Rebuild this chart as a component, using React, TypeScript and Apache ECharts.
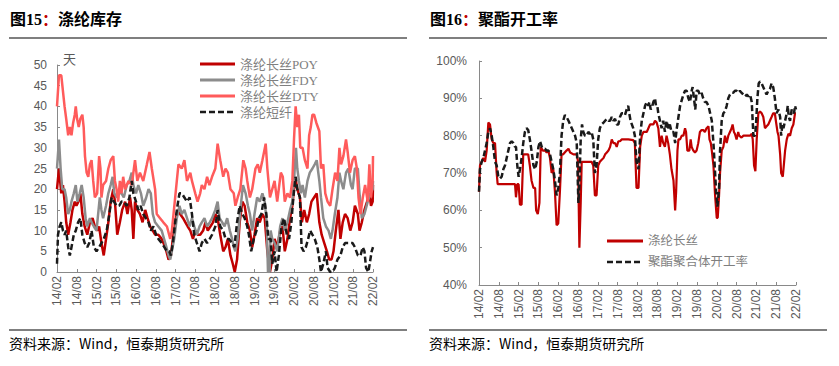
import React, { useEffect, useRef } from "react";
import * as echarts from "echarts";

// x values are months elapsed since 2014/02
const xTickLabels = ["14/02","14/08","15/02","15/08","16/02","16/08","17/02","17/08","18/02","18/08","19/02","19/08","20/02","20/08","21/02","21/08","22/02"];

const invNames = ["涤纶长丝POY", "涤纶长丝FDY", "涤纶长丝DTY", "涤纶短纤"];
const rateNames = ["涤纶长丝", "聚酯聚合体开工率"];

const poy: number[][] = [[0,20],[0.6,25],[1.3,19],[1.8,21],[2.3,17],[2.8,12],[3.4,9],[4.1,12],[4.7,15],[5.4,17],[5.9,16],[6.5,17],[7.1,19],[7.7,14],[8.4,11],[9.2,9],[10.0,12],[10.8,13],[11.5,11],[12.2,10],[12.8,11],[13.5,7],[14.2,4],[14.9,8],[15.6,12],[16.3,17],[17.1,20],[17.6,17],[18.3,9],[19.1,12],[19.8,15],[20.7,17],[21.4,14],[22.2,18],[22.7,15],[23.2,8],[23.7,17],[24.4,15],[25.2,14],[26.0,12],[26.8,15],[27.5,13],[28.3,11],[29.1,10],[29.8,9],[30.8,9],[31.8,8],[32.9,6],[33.9,3],[34.6,4],[35.2,8],[35.9,12],[36.6,15],[37.4,14],[38.3,13],[39.0,12],[39.7,11],[40.5,10],[41.3,8],[42.0,10],[42.7,9],[43.5,9],[44.4,10],[45.1,12],[45.8,10],[46.6,11],[47.4,12],[48.1,14],[48.8,13],[49.6,9],[50.5,5],[51.2,6],[51.9,8],[52.7,4],[53.4,2],[54.0,0],[54.7,3],[55.5,12],[56.3,17],[57.0,16],[57.8,12],[58.6,10],[59.3,6],[60.0,9],[60.8,13],[61.6,12],[62.4,14],[63.1,13],[63.9,5],[64.7,0],[65.4,3],[66.1,8],[66.9,6],[67.8,10],[68.5,11],[69.2,5],[70.0,8],[70.8,13],[71.5,16],[72.0,20],[72.6,22],[73.0,20],[73.8,18],[74.4,12],[75.1,15],[75.9,12],[76.6,14],[77.3,17],[78.1,18],[78.9,19],[79.7,12],[80.4,9],[81.2,7],[82.0,5],[82.7,3],[83.4,3],[84.0,5],[84.7,10],[85.5,15],[86.1,8],[86.8,12],[87.5,14],[88.3,13],[89.1,10],[89.8,12],[90.5,16],[91.4,14],[91.9,10],[92.6,12],[93.4,15],[94.2,17],[94.9,19],[95.4,16],[95.9,17],[96,21]];

const fdy: number[][] = [[0,25],[0.6,32],[1.1,25],[1.6,20],[2.3,20],[2.8,18],[3.4,14],[3.9,15],[4.4,17],[5.1,19],[5.7,21],[6.2,17],[6.9,19],[7.5,21],[8.1,18],[8.7,13],[9.2,11],[10.0,13],[10.5,12],[11.2,11],[12.0,10],[12.5,14],[13.0,18],[13.5,15],[14.0,13],[14.9,16],[15.6,19],[16.3,21],[16.9,23],[17.4,19],[18.1,18],[18.8,19],[19.6,19],[20.3,18],[21.2,21],[22.0,22],[22.7,24],[23.2,21],[24.0,19],[24.7,21],[25.5,19],[26.2,16],[27.1,18],[27.8,20],[28.5,19],[29.1,14],[29.8,12],[30.8,11],[31.8,10],[32.9,7],[33.9,4],[34.4,3],[34.9,5],[35.6,8],[36.4,13],[37.2,16],[37.9,14],[38.7,15],[39.5,13],[40.3,11],[41.0,13],[41.7,11],[42.5,9],[43.3,11],[44.0,12],[44.8,13],[45.6,11],[46.4,12],[47.1,13],[48.1,15],[48.8,17],[49.4,13],[50.2,12],[50.9,11],[51.7,13],[52.5,10],[53.2,8],[53.7,6],[54.2,5],[54.9,8],[55.7,15],[56.5,21],[57.3,19],[58.0,16],[58.6,14],[59.3,10],[60.0,14],[60.8,18],[61.6,17],[62.4,19],[63.1,17],[63.7,12],[64.1,0],[64.6,0],[64.9,10],[65.4,8],[66.1,7],[66.9,5],[67.8,11],[68.5,13],[69.2,10],[70.0,12],[70.8,15],[71.5,17],[72.0,22],[72.6,30],[73.0,25],[73.5,22],[74.1,19],[74.6,21],[75.3,18],[76.1,22],[76.8,24],[77.6,25],[78.3,26],[78.9,27],[79.7,22],[80.2,18],[80.9,13],[81.7,11],[82.5,10],[83.2,8],[83.7,10],[84.4,14],[85.2,18],[85.8,24],[86.3,22],[87.0,20],[87.8,24],[88.5,25],[89.3,21],[89.8,20],[90.5,25],[91.4,25],[91.9,19],[92.6,13],[93.4,14],[94.4,17],[95.2,19],[95.9,20],[96,22]];

const dty: number[][] = [[0,40],[0.6,47.5],[1.3,47.5],[2.3,40],[2.8,37],[3.4,33],[3.9,35],[4.4,33],[4.9,36],[5.4,38],[5.7,40],[6.1,37],[6.6,35],[7.1,37],[7.7,38],[8.1,35],[8.5,28],[9.0,24],[9.5,23],[10.0,26],[10.5,27],[11.0,22],[11.5,18],[12.2,19],[12.8,28],[13.2,25],[13.5,18],[14.0,21],[14.9,22],[15.6,25],[16.3,27],[17.1,28],[17.6,22],[18.1,20],[18.6,17],[19.1,22],[19.6,19],[20.1,23],[20.7,20],[21.7,22],[22.7,21],[23.7,27],[24.4,22],[25.2,24],[26.2,22],[27.3,26],[28.1,29],[28.8,25],[29.8,20],[30.3,14],[31.3,13],[32.3,12],[33.4,11],[34.4,8],[34.9,10],[35.4,14],[36.4,22],[36.9,26],[37.9,25],[38.7,27],[39.5,22],[40.5,24],[41.0,22],[42.0,19],[42.7,17],[43.5,19],[44.0,21],[44.8,20],[45.6,23],[46.3,21],[47.1,23],[48.1,25],[48.8,31],[49.6,27],[50.5,23],[51.2,25],[51.9,24],[52.7,20],[53.7,19],[54.2,16],[54.9,18],[55.7,20],[56.6,27],[57.3,25],[57.8,22],[58.6,18],[59.3,20],[60.3,25],[61.0,26],[61.6,24],[62.4,27],[63.4,31],[63.9,25],[64.7,18],[65.4,20],[66.1,22],[66.9,17],[68.0,24],[68.6,23],[69.2,17],[70.0,19],[70.8,18],[71.5,22],[72.0,32],[72.5,40],[73.0,35],[73.5,38],[73.9,30],[74.6,30],[75.3,27],[76.1,25],[76.6,33],[77.1,35],[77.6,38],[78.1,38],[78.8,36],[79.7,34],[80.2,25],[80.9,26],[81.5,19],[82.2,17],[83.0,16],[83.7,20],[84.5,24],[85.2,22],[85.8,30],[86.3,26],[87.0,28],[87.8,32],[88.3,29],[89.0,24],[89.8,27],[90.5,28],[91.1,25],[91.6,18],[92.2,14],[92.9,18],[93.6,21],[94.4,17],[94.9,26],[95.4,18],[95.9,22],[96,28]];

const staple: number[][] = [[0,2],[0.3,9],[0.8,11],[1.3,12],[1.8,10],[2.3,9],[2.8,10],[3.4,6],[3.9,4],[4.4,6],[5.1,9],[5.7,10],[6.4,12],[7.1,13],[7.7,9],[8.4,7],[9.2,6],[9.8,7],[10.5,10],[11.2,6],[12.0,5],[12.8,6],[13.5,7],[14.2,8],[15.1,10],[15.9,14],[16.6,18],[17.3,17],[18.1,16],[18.9,16],[19.6,17],[20.3,17],[21.2,16],[22.0,18],[22.7,22],[23.2,19],[24.0,17],[24.7,15],[25.4,16],[26.2,14],[27.0,13],[27.8,12],[28.5,10],[29.3,11],[30.1,9],[30.8,8],[31.8,7],[32.6,6],[33.4,5],[34.1,5],[34.6,4],[35.2,7],[35.9,12],[36.6,16],[37.2,19],[37.9,19],[38.7,18],[39.5,17],[40.3,18],[41.0,14],[41.7,9],[42.5,7],[43.3,5],[44.0,7],[44.8,8],[45.6,7],[46.4,8],[47.1,9],[48.1,11],[48.8,15],[49.6,11],[50.5,10],[51.2,8],[52.2,8],[53.2,7],[53.9,6],[54.7,12],[55.5,16],[56.3,14],[57.0,13],[57.8,11],[58.3,9],[59.0,5],[59.8,8],[60.6,10],[61.3,13],[62.1,14],[62.9,18],[63.6,14],[64.2,8],[64.9,8],[65.4,2],[66.1,5],[66.7,0],[67.4,4],[68.2,11],[69.0,13],[69.8,9],[70.5,8],[71.2,12],[71.8,18],[72.5,23],[73.0,20],[73.8,18],[74.3,6],[74.9,5],[75.6,6],[76.3,8],[76.9,10],[77.6,9],[78.3,8],[79.1,6],[79.7,3],[80.2,0],[80.9,2],[81.7,5],[82.2,1],[83.0,0],[83.7,0],[84.4,1],[85.2,3],[86.1,4],[86.8,6],[87.5,7],[88.3,7],[89.1,7],[89.8,7],[90.5,6],[91.4,4],[92.2,4],[92.9,6],[93.4,5],[93.9,1],[94.6,0],[95.2,3],[95.6,5],[96,6]];

const filamentRate: number[][] = [[0,65],[0.3,72],[0.81,73],[1.31,74],[1.82,73],[2.32,76],[2.83,83.5],[3.33,83],[3.84,79],[4.34,78],[4.85,78],[5.35,70],[5.65,67],[6.36,67],[8.38,67],[10.4,67],[10.9,67],[11.2,63.5],[11.6,67],[12.0,67],[12.4,61.5],[12.9,61.5],[13.4,75],[14.4,75],[14.9,75],[15.4,72],[15.9,68],[16.5,66],[17.0,66],[17.3,60],[17.8,59],[18.3,62],[18.7,77],[19.3,76],[20.0,76],[20.5,75.5],[21.0,76],[21.5,74],[22.0,70],[22.5,71],[23.0,65],[23.5,56],[24.0,56.5],[24.5,65],[25.0,75],[25.5,75],[26.5,76],[27.1,76.5],[27.6,75.5],[28.6,75],[29.6,75],[30.0,73],[30.4,50],[30.8,62],[31.1,73],[31.6,73],[32.6,73],[34.1,73],[34.6,72],[35.1,64],[35.6,64],[36.1,72],[36.6,73],[37.1,73.5],[37.7,74],[38.2,75],[38.7,75.5],[39.2,76],[39.7,77],[40.2,79],[40.7,78],[41.2,78],[41.7,77],[42.2,78.5],[42.7,78.5],[43.2,79],[44.2,79],[45.2,79],[46.7,78.8],[47.2,78],[47.7,66],[48.3,66],[48.8,77],[49.3,80],[49.8,81],[50.3,81],[50.8,81],[51.3,82],[51.8,83],[52.3,83],[52.8,83],[53.3,84],[53.8,83.5],[54.3,82],[54.8,77],[55.3,80],[55.8,78],[56.3,77],[56.8,80],[57.3,78],[57.8,75],[58.3,71],[58.9,68],[59.4,60],[59.7,65],[60.1,76],[60.4,79],[60.9,79],[61.4,80],[61.9,80],[62.4,82],[62.7,81],[63.1,76],[63.7,76],[64.1,79],[64.4,77],[64.9,76],[65.4,75.5],[65.9,76],[66.4,78],[66.9,81],[67.4,81.5],[67.9,81.5],[68.4,81],[68.9,82],[69.5,82.5],[69.8,79],[70.2,78],[70.5,76],[71.0,72],[71.5,64],[72.0,58],[72.3,58],[72.7,64],[73.0,70],[73.5,76],[74.0,77],[74.5,80],[75.0,78],[75.5,80],[76.0,81],[76.5,82],[76.8,83],[77.2,81],[77.5,80.5],[78.0,79],[78.5,81],[78.8,80],[79.5,79.5],[80.1,80],[82.1,80],[82.6,80.5],[82.9,79],[83.3,72],[83.7,70.5],[84.1,79],[84.6,86],[85.1,86.5],[85.6,86],[86.1,85],[86.6,82],[87.1,82.5],[87.6,83],[88.1,84],[88.6,85],[89.1,86],[89.6,86],[89.9,84],[90.4,81],[90.7,80],[91.2,75],[91.5,70],[92.0,69],[92.4,73],[92.7,76],[93.2,79],[93.7,80.5],[94.2,80],[94.7,82],[95.2,83],[95.7,86],[96,86]];

const polyesterRate: number[][] = [[0,65],[0.3,71],[0.81,73],[1.31,74],[1.82,76],[2.32,78],[2.83,81],[3.33,82],[3.84,80],[4.34,77],[4.85,73],[5.35,72],[5.86,69],[6.36,68.5],[6.86,69],[7.37,71],[7.87,72],[8.38,74],[8.88,76],[9.39,78],[9.89,78.5],[10.4,78],[10.9,77],[11.2,77],[11.6,72],[12.0,69],[12.4,71],[12.9,74],[13.4,78],[13.9,81],[14.4,82],[14.9,81.5],[15.4,79],[15.9,76],[16.5,72],[17.0,71],[17.5,73],[18.0,77],[18.5,78.5],[19.0,77],[19.5,76.5],[20.0,76.5],[20.5,76],[21.0,76],[21.5,75],[22.0,73],[22.5,71],[23.0,68],[23.5,64],[24.0,66],[24.5,70],[25.0,80],[25.5,84],[26.0,85.5],[26.5,85],[27.1,84],[27.6,83],[28.1,82],[28.6,81],[29.1,80],[29.6,78],[30.1,62],[30.4,67],[30.8,79],[31.2,83],[31.6,81],[32.1,80],[32.6,80],[33.1,81],[33.6,80.5],[34.1,81],[34.6,79],[35.1,70],[35.6,72],[36.1,79],[36.6,82],[37.1,83],[37.7,83.5],[38.2,84],[38.7,84.5],[39.2,84],[39.7,84],[40.2,85],[40.7,84],[41.2,84.5],[41.7,83],[42.2,83],[42.7,85],[43.2,86],[43.7,86],[44.2,85.5],[44.7,87],[45.2,88],[45.5,86],[45.9,84],[46.7,82],[47.2,80],[47.7,73],[48.3,71],[48.8,80],[49.3,84],[49.8,86],[50.3,88],[50.8,89],[51.3,88],[51.6,89],[52.0,87],[52.5,88],[52.8,89],[53.3,90],[53.6,88],[54.0,88],[54.3,86],[54.8,84],[55.3,82],[55.8,84],[56.3,81],[56.8,84],[57.3,82],[57.8,83],[58.3,81],[58.9,81],[59.4,78],[59.9,82],[60.4,85],[60.9,88],[61.4,89.5],[61.9,91],[62.4,92],[62.9,92],[63.4,90],[63.9,89],[64.4,92],[64.7,93],[65.1,90],[65.5,87],[65.9,92],[66.4,92],[66.9,91],[67.4,91.5],[67.9,90],[68.4,89],[68.9,89],[69.5,88],[70.0,86],[70.5,84],[71.0,78],[71.5,70],[71.8,65],[72.2,61],[72.7,66],[73.0,76],[73.5,84],[74.0,86],[74.5,86.5],[75.0,88],[75.5,90],[76.0,91],[76.5,91.5],[77.0,91.5],[77.5,92],[78.0,92],[78.5,91.5],[79.0,92],[79.5,91.5],[80.1,91],[80.6,90.5],[81.1,91],[81.6,90.5],[82.1,91],[82.6,89],[83.1,80],[83.6,80],[83.9,83],[84.3,90],[84.7,94],[85.1,94.5],[85.6,94],[86.1,93],[86.6,92],[87.1,91],[87.6,92],[88.1,92.5],[88.6,94],[89.1,93],[89.6,90],[90.1,86],[90.7,87],[91.2,85],[91.5,80],[91.9,83],[92.2,82],[92.7,84],[93.2,86],[93.5,88],[93.8,85],[94.2,84],[94.7,87],[95.0,86.5],[95.4,86],[95.7,88],[96,87]];

const AX = "#898989";
const LBL = "#595959";
const LEG = "#7f7f7f";
const FONT = 'Arial, "Liberation Sans", sans-serif';
const CJK = '"Liberation Serif", "Noto Sans CJK SC", serif';
const DASH = [6, 3];

const invColors = ["#C00000", "#8C8C8C", "#FF5B5B", "#1A1A1A"];
const rateColors = ["#C00000", "#1A1A1A"];

function xAxisCfg(gridIndex: number) {
  return {
    gridIndex,
    type: "value",
    min: 0,
    max: 96,
    interval: 6,
    axisLine: { show: true, lineStyle: { color: AX, width: 1 } },
    axisTick: { show: true, inside: true, length: 3, lineStyle: { color: AX } },
    splitLine: { show: false },
    axisLabel: {
      rotate: 90,
      margin: 4,
      color: LBL,
      fontSize: 12,
      fontFamily: FONT,
      formatter: (v: number) => xTickLabels[Math.round(v / 6)] ?? "",
    },
  };
}

function yAxisCfg(gridIndex: number, min: number, max: number, interval: number, fmt: string, margin: number) {
  return {
    gridIndex,
    type: "value",
    min,
    max,
    interval,
    axisLine: { show: true, lineStyle: { color: AX, width: 1 } },
    axisTick: { show: true, inside: true, length: 3, lineStyle: { color: AX } },
    splitLine: { show: false },
    axisLabel: { color: LBL, fontSize: 12, fontFamily: FONT, margin, formatter: fmt },
  };
}

function lineSeries(name: string, data: number[][], gi: number, color: string, width: number, dashed: boolean) {
  return {
    name,
    type: "line",
    xAxisIndex: gi,
    yAxisIndex: gi,
    data,
    symbol: "none",
    showSymbol: false,
    smooth: false,
    lineStyle: { color, width, type: dashed ? DASH : "solid" },
    itemStyle: { color },
  };
}

function legendItems(names: string[], colors: string[], dashed: boolean[], x: number, y0: number, step: number, len: number, width: number[], fontSize: number) {
  const out: any[] = [];
  names.forEach((n, i) => {
    const y = y0 + i * step;
    out.push({
      type: "line",
      shape: { x1: x, y1: y, x2: x + len, y2: y },
      style: { stroke: colors[i], lineWidth: width[i], lineDash: dashed[i] ? DASH : null },
    });
    out.push({
      type: "text",
      x: x + len + 5,
      y,
      style: { text: n, fill: LEG, fontSize, fontFamily: CJK, verticalAlign: "middle", align: "left" },
    });
  });
  return out;
}

export default function App() {
  const ref = useRef<HTMLDivElement>(null);
  useEffect(() => {
    if (!ref.current) return;
    const chart = echarts.init(ref.current, null, { renderer: "svg" });
    const titleRich = (color: string) => ({
      a: { fontSize: 16, fontWeight: "bold", fontFamily: '"Liberation Serif", "Noto Sans CJK SC", serif', fill: "#000" },
      b: { fontSize: 16, fontWeight: "bold", fontFamily: '"Noto Sans CJK SC", serif', fill: color },
    });
    chart.setOption({
      animation: false,
      backgroundColor: "#fff",
      textStyle: { fontFamily: FONT },
      grid: [
        { left: 57, top: 65, width: 316, height: 207 },
        { left: 479, top: 61, width: 317, height: 224 },
      ],
      xAxis: [xAxisCfg(0), xAxisCfg(1)],
      yAxis: [yAxisCfg(0, 0, 50, 5, "{value}", 10), yAxisCfg(1, 40, 100, 10, "{value}%", 12)],
      series: [
        lineSeries(invNames[0], poy, 0, invColors[0], 2.5, false),
        lineSeries(invNames[1], fdy, 0, invColors[1], 2.5, false),
        lineSeries(invNames[2], dty, 0, invColors[2], 2.5, false),
        lineSeries(invNames[3], staple, 0, invColors[3], 2.5, true),
        lineSeries(rateNames[0], filamentRate, 1, rateColors[0], 2.2, false),
        lineSeries(rateNames[1], polyesterRate, 1, rateColors[1], 2.5, true),
      ],
      graphic: [
        { type: "text", left: 10, top: 11, style: { text: "{a|图15}{b|：}{a|涤纶库存}", rich: titleRich("#C00000") } },
        { type: "text", left: 430, top: 11, style: { text: "{a|图16}{b|：}{a|聚酯开工率}", rich: titleRich("#C00000") } },
        { type: "line", shape: { x1: 9, y1: 38, x2: 407, y2: 38 }, style: { stroke: "#000", lineWidth: 1.2 } },
        { type: "line", shape: { x1: 429, y1: 38, x2: 827, y2: 38 }, style: { stroke: "#000", lineWidth: 1.2 } },
        { type: "line", shape: { x1: 9, y1: 330, x2: 407, y2: 330 }, style: { stroke: "#000", lineWidth: 1.2 } },
        { type: "line", shape: { x1: 429, y1: 330, x2: 827, y2: 330 }, style: { stroke: "#000", lineWidth: 1.2 } },
        { type: "text", left: 9, top: 336, style: { text: "资料来源：Wind，恒泰期货研究所", fontSize: 14, fontFamily: '"Noto Sans CJK SC", sans-serif', fill: "#000" } },
        { type: "text", left: 429, top: 336, style: { text: "资料来源：Wind，恒泰期货研究所", fontSize: 14, fontFamily: '"Noto Sans CJK SC", sans-serif', fill: "#000" } },
        { type: "text", left: 63, top: 52, style: { text: "天", fontSize: 13, fontFamily: '"Noto Sans CJK SC", sans-serif', fill: LBL } },
        ...legendItems(invNames, invColors, [false, false, false, true], 200, 64, 16, 35, [3, 3, 3, 2.5], 13),
        ...legendItems(rateNames, rateColors, [false, true], 607, 241, 21, 36, [3, 2.5], 12.5),
      ],
    });
    return () => chart.dispose();
  }, []);
  return <div ref={ref} style={{ position: "absolute", left: 0, top: 0, width: 839, height: 366 }} />;
}
